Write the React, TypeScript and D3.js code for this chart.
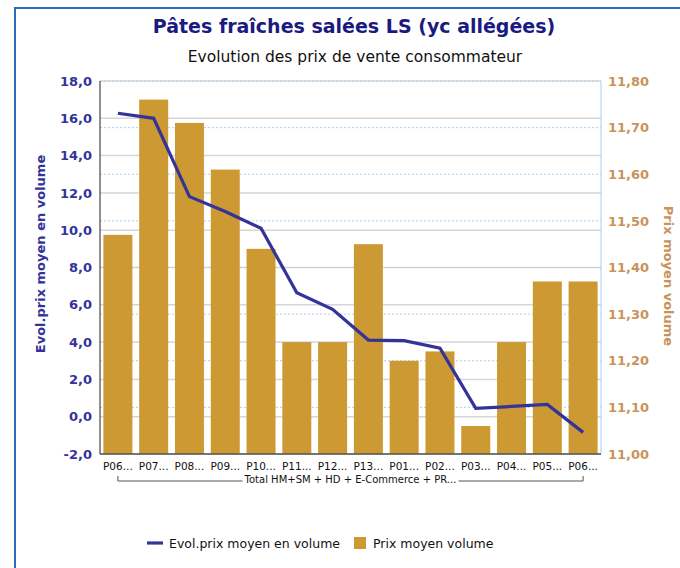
import React from "react";
import * as d3 from "d3";

const categories = ["P06...", "P07...", "P08...", "P09...", "P10...", "P11...", "P12...", "P13...", "P01...", "P02...", "P03...", "P04...", "P05...", "P06..."];
const groupLabel = "Total HM+SM + HD + E-Commerce + PR...";
const evolValues = [16.27, 16.0, 11.8, 11.0, 10.1, 6.65, 5.76, 4.11, 4.08, 3.67, 0.45, 0.55, 0.66, -0.84];
const prixValues = [11.47, 11.76, 11.71, 11.61, 11.44, 11.24, 11.24, 11.45, 11.2, 11.22, 11.06, 11.24, 11.37, 11.37];
const leftTicks = [-2, 0, 2, 4, 6, 8, 10, 12, 14, 16, 18];
const rightTicks = [11.0, 11.1, 11.2, 11.3, 11.4, 11.5, 11.6, 11.7, 11.8];

const title = "Pâtes fraîches salées LS (yc allégées)";
const subtitle = "Evolution des prix de vente consommateur";
const leftTitle = "Evol.prix moyen en volume";
const rightTitle = "Prix moyen volume";

const W = 680, H = 568;
const plot = { left: 100, right: 601, top: 81, bottom: 454 };
const FONT = "'DejaVu Sans', Verdana, sans-serif";
const LINE_COLOR = "#333399";
const BAR_COLOR = "#CC9933";
const RIGHT_COLOR = "#C9935A";

const fmt = (d: number, p: number) => d.toFixed(p).replace(".", ",");

export default function App() {
  const x = d3.scaleBand<number>().domain(d3.range(categories.length)).range([plot.left, plot.right]).paddingInner(0.19).paddingOuter(0.095);
  const yL = d3.scaleLinear().domain([-2, 18]).range([plot.bottom, plot.top]);
  const yR = d3.scaleLinear().domain([11.0, 11.8]).range([plot.bottom, plot.top]);
  const cx = (i: number) => (x(i) as number) + x.bandwidth() / 2;
  const line = d3.line<number>().x((_, i) => cx(i)).y((d) => yL(d));
  const first = cx(0), last = cx(categories.length - 1);
  const mid = (first + last) / 2;
  const gap = 108;

  return (
    <svg width={W} height={H} style={{ position: "absolute", left: 0, top: 0, background: "#fff" }} fontFamily={FONT}>
      <rect x={15} y={8} width={700} height={600} fill="none" stroke="#2a6ebb" strokeWidth={2} />
      <text x={354} y={33} textAnchor="middle" fontSize={19} fontWeight="bold" fill="#1a1a80">{title}</text>
      <text x={355} y={62} textAnchor="middle" fontSize={15.5} fill="#111">{subtitle}</text>

      {/* left gridlines */}
      {leftTicks.map((t) => (
        <line key={"gl" + t} x1={plot.left} x2={plot.right} y1={yL(t)} y2={yL(t)} stroke="#d6d6d6" strokeWidth={1.5} />
      ))}
      {/* right gridlines */}
      {rightTicks.map((t) => (
        <line key={"gr" + t} x1={plot.left} x2={plot.right} y1={yR(t)} y2={yR(t)} stroke="#a9d1f5" strokeWidth={1} strokeDasharray="2,2" />
      ))}

      {/* bars */}
      {prixValues.map((v, i) => (
        <rect key={"b" + i} x={x(i)} y={yR(v)} width={x.bandwidth()} height={yR(11.0) - yR(v)} fill={BAR_COLOR} />
      ))}

      {/* axes lines */}
      <line x1={plot.right} x2={plot.right} y1={plot.top} y2={plot.bottom} stroke="#a8cdee" strokeWidth={1} />
      <line x1={plot.left} x2={plot.left} y1={plot.top} y2={plot.bottom} stroke="#222" strokeWidth={1} />
      <line x1={plot.left} x2={plot.right} y1={plot.bottom} y2={plot.bottom} stroke="#555" strokeWidth={1.5} />

      {/* line series */}
      <path d={line(evolValues) || ""} fill="none" stroke={LINE_COLOR} strokeWidth={3.2} strokeLinejoin="miter" />

      {/* left ticks */}
      {leftTicks.map((t) => (
        <text key={"tl" + t} x={92} y={yL(t)} dy="0.36em" textAnchor="end" fontSize={13} fontWeight="bold" fill={LINE_COLOR}>{fmt(t, 1)}</text>
      ))}
      {/* right ticks */}
      {rightTicks.map((t) => (
        <text key={"tr" + t} x={608} y={yR(t)} dy="0.36em" textAnchor="start" fontSize={13} fontWeight="bold" fill={RIGHT_COLOR}>{fmt(t, 2)}</text>
      ))}

      {/* axis titles */}
      <text transform={`translate(45,254) rotate(-90)`} textAnchor="middle" fontSize={13} fontWeight="bold" fill={LINE_COLOR}>{leftTitle}</text>
      <text transform={`translate(664,276) rotate(90)`} textAnchor="middle" fontSize={13} fontWeight="bold" fill={RIGHT_COLOR}>{rightTitle}</text>

      {/* category labels */}
      {categories.map((c, i) => (
        <text key={"c" + i} x={cx(i)} y={470} textAnchor="middle" fontSize={10.5} fill="#111">{c}</text>
      ))}
      {/* group bracket */}
      <path d={`M${first},476V481H${mid - gap}M${mid + gap},481H${last}V476`} fill="none" stroke="#555" strokeWidth={1} />
      <text x={mid} y={483} textAnchor="middle" fontSize={10} fill="#111">{groupLabel}</text>

      {/* legend */}
      <line x1={147} x2={163} y1={543} y2={543} stroke={LINE_COLOR} strokeWidth={3.2} />
      <text x={169} y={547.5} fontSize={12.5} fill="#111">{leftTitle}</text>
      <rect x={354} y={537} width={12} height={12} fill={BAR_COLOR} />
      <text x={373} y={547.5} fontSize={12.5} fill="#111">{rightTitle}</text>
    </svg>
  );
}
